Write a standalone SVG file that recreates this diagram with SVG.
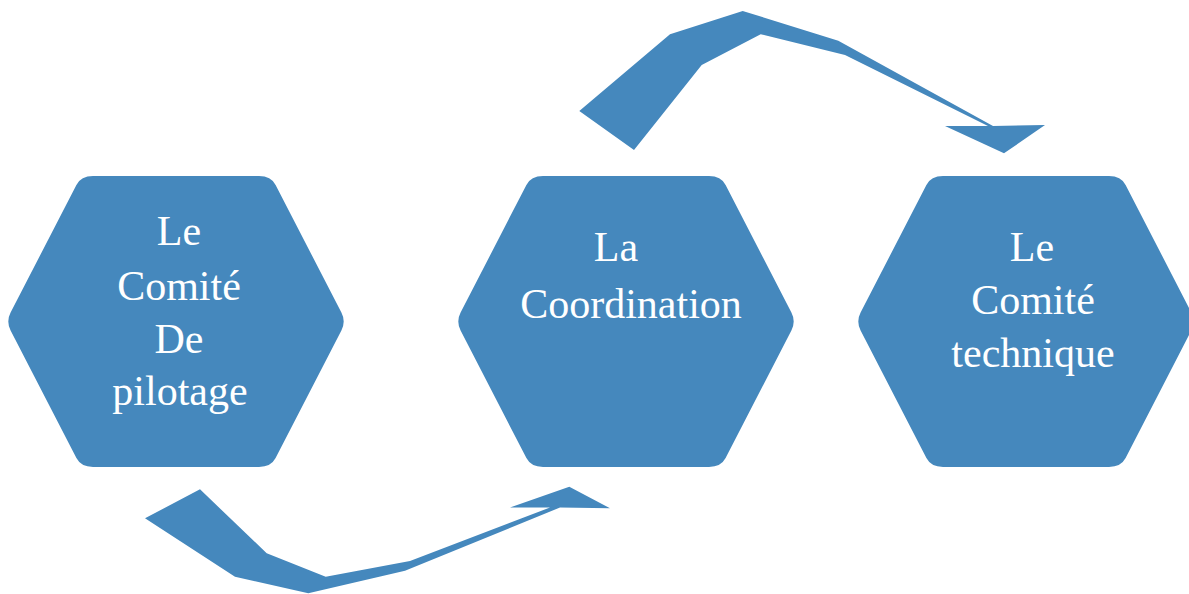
<svg xmlns="http://www.w3.org/2000/svg" width="1189" height="594" viewBox="0 0 1189 594">
  <defs>
    <style>
      .hex { fill: #4588bd; }
      .arrow { fill: #4588bd; }
      .label { font-family: "Liberation Serif", "Times New Roman", serif; font-size: 42px; fill: #ffffff; text-anchor: middle; }
    </style>
    <!-- hexagon with softened corners, centred on 0,0 -->
    <path id="hexShape" d="M -165.4,-8.9 L -99.6,-136.6 Q -95,-145.5 -83,-145.5 L 83,-145.5 Q 95,-145.5 99.6,-136.6 L 165.4,-8.9 Q 170,0 165.4,8.9 L 99.6,136.6 Q 95,145.5 83,145.5 L -83,145.5 Q -95,145.5 -99.6,136.6 L -165.4,8.9 Q -170,0 -165.4,-8.9 Z"/>
  </defs>

  <rect width="1189" height="594" fill="#ffffff"/>

  <g id="connectors">
    <!-- curved arrow from the coordination to the technical committee -->
    <polygon class="arrow" points="579.3,111 670,34.3 742.7,11 838.3,40.7 993,126 1045,125 1004,153.3 945,126 988,126 845,55 760.7,34.3 701.7,65 634,150"/>
    <!-- curved arrow from the steering committee to the coordination -->
    <polygon class="arrow" points="145,518.3 200,489.3 266.7,553.3 325.7,576.7 410,561 550,507.5 510,507.5 569.3,486.7 610,508.3 560,507.5 405,570.7 308.3,593.3 235,576.7"/>
  </g>

  <g id="node-pilotage">
    <use href="#hexShape" class="hex" transform="translate(176,321.5)"/>
    <text class="label" x="179" y="245">Le</text>
    <text class="label" x="179" y="300">Comité</text>
    <text class="label" x="179" y="353">De</text>
    <text class="label" x="180" y="405">pilotage</text>
  </g>

  <g id="node-coordination">
    <use href="#hexShape" class="hex" transform="translate(626,321.5)"/>
    <text class="label" x="616" y="261">La</text>
    <text class="label" x="631" y="318">Coordination</text>
  </g>

  <g id="node-technique">
    <use href="#hexShape" class="hex" transform="translate(1026,321.5)"/>
    <text class="label" x="1032" y="261">Le</text>
    <text class="label" x="1033" y="314">Comité</text>
    <text class="label" x="1033" y="367">technique</text>
  </g>
</svg>
